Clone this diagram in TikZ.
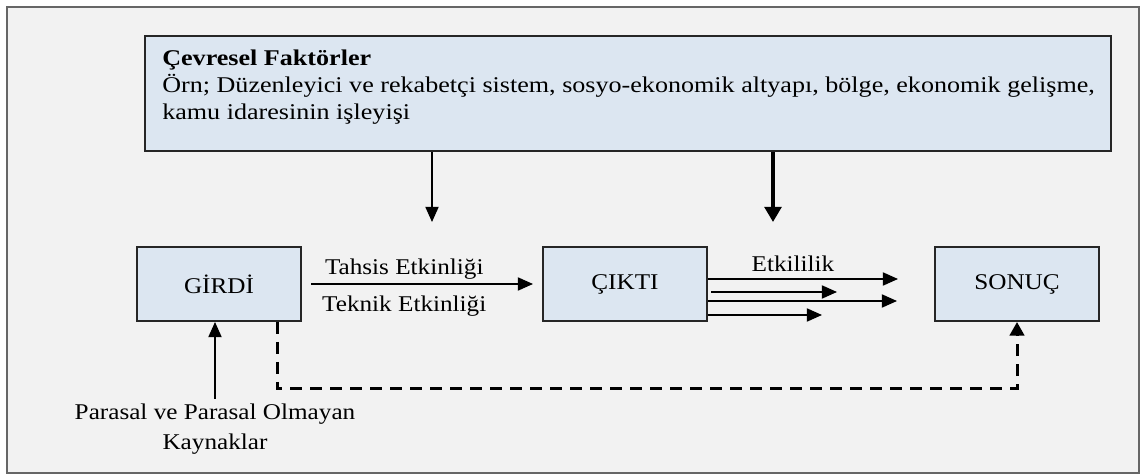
\documentclass[tikz,border=0pt]{standalone}
\usepackage{fontspec}
\setmainfont{Liberation Serif}
\usepackage{graphicx}
\usetikzlibrary{arrows.meta,positioning}
\definecolor{boxblue}{HTML}{DCE6F1}
\definecolor{panelgray}{HTML}{F2F2F2}
\newcommand{\wtext}[2][1.12]{\scalebox{#1}[1]{#2}}

\begin{document}
\begin{tikzpicture}[
        node distance=6cm,
        font=\fontsize{16}{19.2}\selectfont,
        block/.style={rectangle, draw=black!85, line width=0.05cm, fill=boxblue, minimum width=4.1cm, minimum height=1.85cm, align=center},
        envbox/.style={rectangle, draw=black!85, line width=0.05cm, fill=boxblue, minimum width=24.15cm, minimum height=2.875cm},
        flow/.style={-{Triangle[length=0.38cm,width=0.33cm]}, line width=0.0375cm},
        bigflow/.style={-{Triangle[length=0.38cm,width=0.42cm]}, line width=0.09cm},
        dashflow/.style={-{Triangle[length=0.34cm,width=0.36cm]}, line width=0.075cm, dash pattern=on 0.3cm off 0.2cm},
        lbl/.style={inner sep=0pt, anchor=base}
    ]

    % Frame
    \useasboundingbox (0,0) rectangle (28.6,-11.875);
    \draw[draw=black!60, line width=0.05cm, fill=panelgray] (0.175,-0.175) rectangle (28.475,-11.825);

    % Environmental factors
    \node[envbox, anchor=north west] (cevre) at (3.6,-0.875) {};
    \node[anchor=north west, inner sep=0pt, align=left] (cevretxt) at ([xshift=0.45cm, yshift=-0.375cm]cevre.north west)
        {\textbf{\wtext[1.16]{Çevresel Faktörler}}\\
         \wtext[1.16]{Örn; Düzenleyici ve rekabetçi sistem, sosyo-ekonomik altyapı, bölge, ekonomik gelişme,}\\
         \wtext[1.16]{kamu idaresinin işleyişi}};

    % Main blocks
    \node[block] (girdi) at (5.475,-7.1) {\wtext{GİRDİ}};
    \node[block, right=of girdi] (cikti) {\wtext{ÇIKTI}};
    \node[block, right=5.65cm of cikti] (sonuc) {\wtext{SONUÇ}};

    % Resources
    \node[below=2.04cm of girdi, xshift=-0.1cm, inner sep=0pt, align=center, font=\fontsize{16}{21.3}\selectfont] (kaynak)
        {\wtext{Parasal ve Parasal Olmayan}\\\wtext{Kaynaklar}};

    % Free ends
    \coordinate (down1) at ([xshift=7.2cm, yshift=-1.75cm]cevre.south west);
    \coordinate (down2) at ([xshift=15.725cm, yshift=-1.75cm]cevre.south west);
    \coordinate (out1) at ([xshift=4.75cm, yshift=0.125cm]cikti.east);
    \coordinate (out2) at ([xshift=3.225cm, yshift=-0.2cm]cikti.east);
    \coordinate (out3) at ([xshift=4.725cm, yshift=-0.425cm]cikti.east);
    \coordinate (out4) at ([xshift=2.85cm, yshift=-0.775cm]cikti.east);
    \coordinate (back) at ([xshift=-0.625cm, yshift=-1.675cm]girdi.south east);

    % Flows
    \draw[flow] (down1 |- cevre.south) -- (down1);
    \draw[bigflow] (down2 |- cevre.south) -- (down2);

    \draw[flow] ([xshift=0.225cm]girdi.east) --
        node[lbl, pos=0.42, yshift=0.225cm] (tahsis) {\wtext{Tahsis Etkinliği}}
        node[lbl, pos=0.42, yshift=-0.7cm] (teknik) {\wtext{Teknik Etkinliği}}
        ([xshift=-0.225cm]cikti.west);

    \draw[flow] (cikti.east |- out1) -- node[lbl, pos=0.447, yshift=0.175cm] (etki) {\wtext{Etkililik}} (out1);
    \draw[flow] ([xshift=0.075cm]cikti.east |- out2) -- (out2);
    \draw[flow] (cikti.east |- out3) -- (out3);
    \draw[flow] (cikti.east |- out4) -- (out4);

    \draw[flow, shorten <=0.12cm] (kaynak.north) -- (kaynak.north |- girdi.south);
    \draw[dashflow] (back |- girdi.south) -- (back) -| (sonuc.south);

\end{tikzpicture}
\end{document}
